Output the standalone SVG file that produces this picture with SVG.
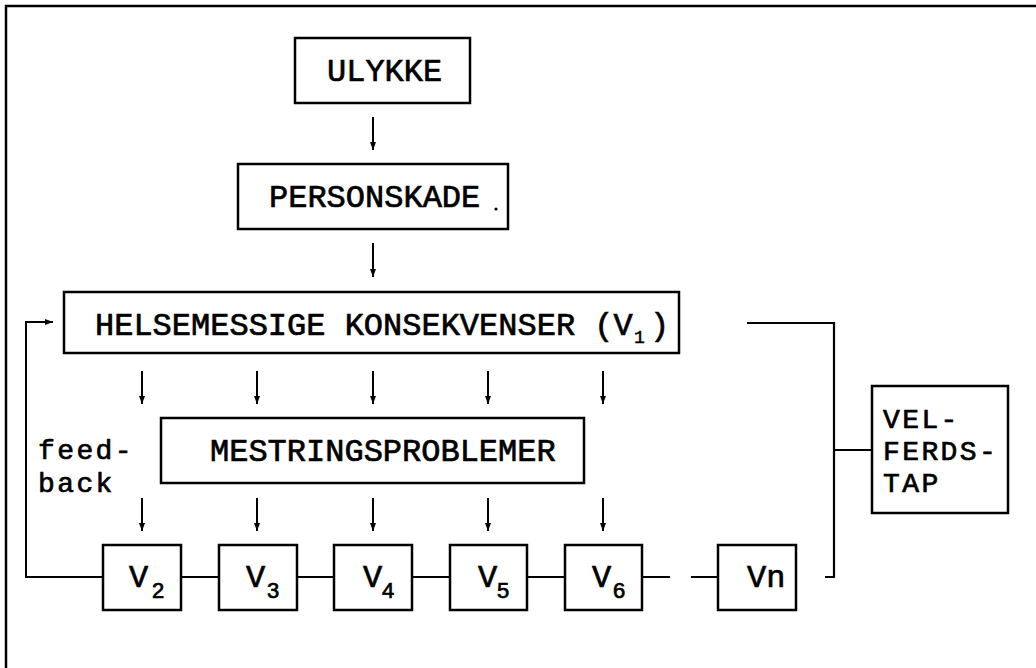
<svg xmlns="http://www.w3.org/2000/svg" width="1036" height="668" viewBox="0 0 1036 668">
<style>
.box{fill:#fff;stroke:#000;stroke-width:2.5}
.t{font-family:"Liberation Mono","Courier New",monospace;font-size:32px;fill:#000;stroke:#000;stroke-width:0.7}
.m{font-size:28px;letter-spacing:2.4px}
.sub{font-family:"Liberation Sans Narrow","Liberation Sans",sans-serif;font-size:22px;fill:#000}
.sub1{font-family:"Liberation Mono",monospace;font-size:18px;fill:#000;stroke:#000;stroke-width:0.5}
.ln{fill:none;stroke:#000;stroke-width:2.2}
.ar{fill:none;stroke:#000;stroke-width:2;marker-end:url(#ah)}
</style>
<defs>
<marker id="ah" viewBox="0 0 8 8" refX="8" refY="4" markerWidth="8" markerHeight="8" markerUnits="userSpaceOnUse" orient="auto">
<path d="M0,1 L8,4 L0,7 z" fill="#000"/>
</marker>
</defs>
<rect width="1036" height="668" fill="#fff"/>
<path d="M6,668 V6 H1036" fill="none" stroke="#000" stroke-width="2.5"/>

<g id="connectors">
<line class="ar" x1="373" y1="117" x2="373" y2="150"/>
<line class="ar" x1="373" y1="243" x2="373" y2="277"/>
<line class="ar" x1="142" y1="371" x2="142" y2="404"/>
<line class="ar" x1="257" y1="371" x2="257" y2="404"/>
<line class="ar" x1="373" y1="371" x2="373" y2="404"/>
<line class="ar" x1="488" y1="371" x2="488" y2="404"/>
<line class="ar" x1="603" y1="371" x2="603" y2="404"/>
<line class="ar" x1="142" y1="498" x2="142" y2="531"/>
<line class="ar" x1="257" y1="498" x2="257" y2="531"/>
<line class="ar" x1="373" y1="498" x2="373" y2="531"/>
<line class="ar" x1="488" y1="498" x2="488" y2="531"/>
<line class="ar" x1="603" y1="498" x2="603" y2="531"/>
<path class="ar" d="M103,577 H26 V322 H53"/>
<path class="ln" d="M181,577 H219 M297,577 H334 M412,577 H450 M527,577 H565 M642,577 H670 M691,577 H718"/>
<path class="ln" d="M747,323 H834 V577 H825 M834,450 H872"/>
</g>

<g id="ulykke">
<rect class="box" x="295" y="38" width="175" height="65"/>
<text class="t" x="327" y="81">ULYKKE</text>
</g>
<g id="personskade">
<rect class="box" x="238" y="164" width="270" height="65"/>
<text class="t" x="269" y="207">PERSONSKADE</text>
<circle cx="496" cy="209" r="1.6" fill="#000"/>
</g>
<g id="helsemessige">
<rect class="box" x="64" y="292" width="615" height="61"/>
<text class="t" x="95" y="335">HELSEMESSIGE KONSEKVENSER (V<tspan class="sub1" x="634" y="343">1</tspan><tspan x="650" y="335">)</tspan></text>
</g>
<g id="feedback">
<text class="t m" x="38" y="459">feed-</text>
<text class="t m" x="38" y="492">back</text>
</g>
<g id="mestring">
<rect class="box" x="161" y="418" width="423" height="65"/>
<text class="t" x="210" y="461">MESTRINGSPROBLEMER</text>
</g>
<g id="v2">
<rect class="box" x="103" y="545" width="78" height="65"/>
<text class="t" x="129" y="587">V<tspan class="sub" x="152" y="598">2</tspan></text>
</g>
<g id="v3">
<rect class="box" x="219" y="545" width="78" height="65"/>
<text class="t" x="246" y="587">V<tspan class="sub" x="267" y="598">3</tspan></text>
</g>
<g id="v4">
<rect class="box" x="334" y="545" width="78" height="65"/>
<text class="t" x="363" y="587">V<tspan class="sub" x="382" y="598">4</tspan></text>
</g>
<g id="v5">
<rect class="box" x="450" y="545" width="77" height="65"/>
<text class="t" x="478" y="587">V<tspan class="sub" x="497" y="598">5</tspan></text>
</g>
<g id="v6">
<rect class="box" x="565" y="545" width="77" height="65"/>
<text class="t" x="592" y="587">V<tspan class="sub" x="613" y="598">6</tspan></text>
</g>
<g id="vn">
<rect class="box" x="718" y="545" width="78" height="65"/>
<text class="t" x="747" y="587">Vn</text>
</g>
<g id="velferdstap">
<rect class="box" x="872" y="386" width="136" height="127"/>
<text class="t m" x="883" y="428">VEL-</text>
<text class="t m" x="883" y="460">FERDS-</text>
<text class="t m" x="883" y="492">TAP</text>
</g>
</svg>
